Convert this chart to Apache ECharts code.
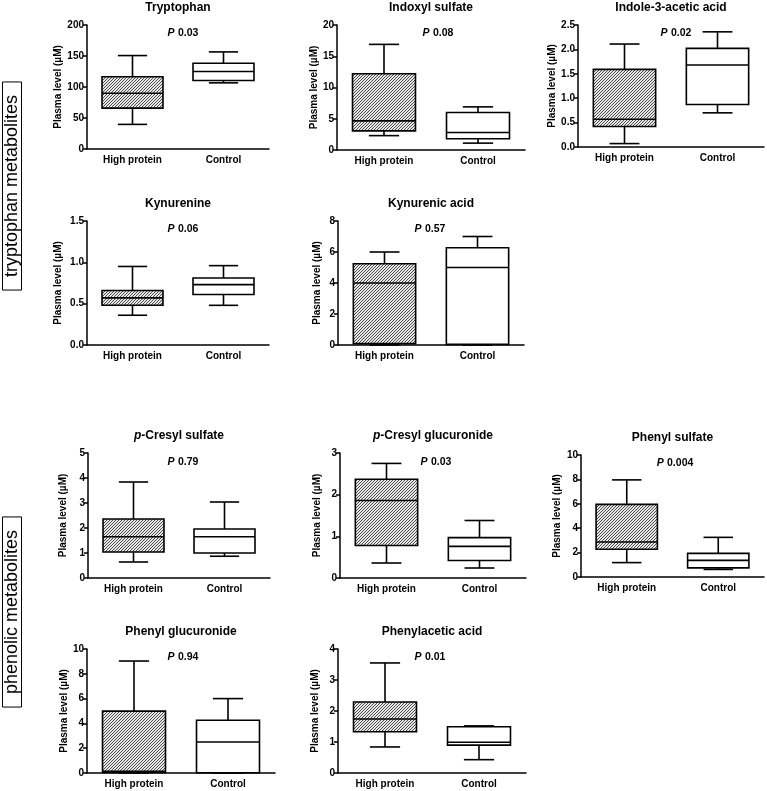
<!DOCTYPE html>
<html><head><meta charset="utf-8">
<script src="https://cdn.jsdelivr.net/npm/echarts@6/dist/echarts.min.js"></script>
<style>html,body{margin:0;padding:0;background:#fff}#c{width:767px;height:791px}</style>
</head><body><div id="c"></div>
<script>
// ---------- DATA ----------
const categories = ['High protein', 'Control'];
const panelTitles = ['Tryptophan', 'Indoxyl sulfate', 'Indole-3-acetic acid', 'Kynurenine', 'Kynurenic acid',
  '{i|p}-Cresyl sulfate', '{i|p}-Cresyl glucuronide', 'Phenyl sulfate', 'Phenyl glucuronide', 'Phenylacetic acid'];
const pValues = ['0.03', '0.08', '0.02', '0.06', '0.57', '0.79', '0.03', '0.004', '0.94', '0.01'];
const groupLabels = ['tryptophan metabolites', 'phenolic metabolites'];
// box values: [min, Q1, median, Q3, max]
const tryptophanHP = [39.7, 66, 90, 116.5, 150.7];
const tryptophanCtrl = [106.7, 110.5, 125, 138.3, 156.6];
const indoxylHP = [2.3, 3.06, 4.66, 12.2, 16.9];
const indoxylCtrl = [1.1, 1.8, 2.8, 6.0, 6.9];
const indoleAceticHP = [0.07, 0.42, 0.57, 1.59, 2.11];
const indoleAceticCtrl = [0.70, 0.87, 1.68, 2.02, 2.36];
const kynurenineHP = [0.36, 0.48, 0.57, 0.66, 0.95];
const kynurenineCtrl = [0.48, 0.61, 0.73, 0.81, 0.96];
const kynurenicHP = [0.0, 0.09, 4.0, 5.24, 6.0];
const kynurenicCtrl = [0.0, 0.04, 5.0, 6.27, 7.0];
const pCresylSulfHP = [0.64, 1.04, 1.65, 2.36, 3.84];
const pCresylSulfCtrl = [0.87, 1.0, 1.65, 1.96, 3.04];
const pCresylGlucHP = [0.36, 0.78, 1.86, 2.37, 2.75];
const pCresylGlucCtrl = [0.24, 0.42, 0.76, 0.97, 1.38];
const phenylSulfHP = [1.18, 2.27, 2.87, 5.95, 7.96];
const phenylSulfCtrl = [0.62, 0.75, 1.36, 1.94, 3.25];
const phenylGlucHP = [0.0, 0.05, 0.13, 4.99, 9.03];
const phenylGlucCtrl = [0.0, 0.02, 2.5, 4.25, 6.0];
const phenylaceticHP = [0.84, 1.33, 1.74, 2.29, 3.55];
const phenylaceticCtrl = [0.43, 0.9, 0.99, 1.49, 1.52];
const yMaxes = [200, 20, 2.5, 1.5, 8, 5, 3, 10, 10, 4];
const yIntervals = [50, 5, 0.5, 0.5, 2, 1, 1, 2, 2, 1];
const yDecimals = [0, 0, 1, 1, 0, 0, 0, 0, 0, 0];
const yAxisName = 'Plasma level (µM)';

const panelData = [
  [tryptophanHP, tryptophanCtrl], [indoxylHP, indoxylCtrl], [indoleAceticHP, indoleAceticCtrl],
  [kynurenineHP, kynurenineCtrl], [kynurenicHP, kynurenicCtrl],
  [pCresylSulfHP, pCresylSulfCtrl], [pCresylGlucHP, pCresylGlucCtrl], [phenylSulfHP, phenylSulfCtrl],
  [phenylGlucHP, phenylGlucCtrl], [phenylaceticHP, phenylaceticCtrl]
];

// ---------- LAYOUT ----------
// [left, top, width, height]
const gridBoxes = [
  [87, 25, 182, 124], [337, 25, 188, 125], [578, 25, 186, 122],
  [87, 221, 182, 124], [338, 221, 186, 124],
  [88, 453, 182, 125], [340, 453, 186, 125], [581, 455, 183, 122],
  [87, 649, 188, 124], [338, 649, 188, 124]
];
const nameGaps = [24, 17, 20, 24, 16, 20, 18, 19, 18, 18];
const pPos = [[183, 33], [438, 33], [676, 33], [183, 229], [430, 229], [183, 462], [436, 462], [675, 463], [183, 657], [430, 657]];
const FONT = '"Liberation Sans", Arial, sans-serif';

function makeHatch() {
  const s = 3;
  const cv = document.createElement('canvas');
  cv.width = s; cv.height = s;
  const ctx = cv.getContext('2d');
  ctx.fillStyle = '#e6e6e6'; ctx.fillRect(0, 0, s, s);
  ctx.strokeStyle = '#3c3c3c'; ctx.lineWidth = 0.9;
  ctx.beginPath();
  ctx.moveTo(0, s); ctx.lineTo(s, 0);
  ctx.moveTo(-1, 1); ctx.lineTo(1, -1);
  ctx.moveTo(s - 1, s + 1); ctx.lineTo(s + 1, s - 1);
  ctx.stroke();
  return cv;
}
const hatch = { image: makeHatch(), repeat: 'repeat' };

function renderBox(params, api) {
  const ci = api.value(0);
  const v = [api.value(1), api.value(2), api.value(3), api.value(4), api.value(5)];
  const band = api.size([1, 0])[0];
  const bw = band * 0.67;
  const cw = bw * 0.48;
  const cx = api.coord([ci, v[2]])[0];
  const y = v.map(val => api.coord([ci, val])[1]);
  const ls = { stroke: '#000', lineWidth: 1.6, fill: null };
  return {
    type: 'group', children: [
      { type: 'line', shape: { x1: cx, y1: y[3], x2: cx, y2: y[4] }, style: ls },
      { type: 'line', shape: { x1: cx, y1: y[1], x2: cx, y2: y[0] }, style: ls },
      { type: 'line', shape: { x1: cx - cw / 2, y1: y[4], x2: cx + cw / 2, y2: y[4] }, style: ls },
      { type: 'line', shape: { x1: cx - cw / 2, y1: y[0], x2: cx + cw / 2, y2: y[0] }, style: ls },
      { type: 'rect', shape: { x: cx - bw / 2, y: y[3], width: bw, height: y[1] - y[3] },
        style: { fill: ci === 0 ? hatch : '#fff', stroke: '#000', lineWidth: 1.6 } },
      { type: 'line', shape: { x1: cx - bw / 2, y1: y[2], x2: cx + bw / 2, y2: y[2] }, style: ls }
    ]
  };
}

const grids = [], xAxes = [], yAxes = [], series = [], graphics = [];
panelData.forEach((pd, i) => {
  const g = gridBoxes[i];
  grids.push({ left: g[0], top: g[1], width: g[2], height: g[3], containLabel: false });
  xAxes.push({
    type: 'category', gridIndex: i, data: categories, boundaryGap: true,
    axisLine: { lineStyle: { color: '#000', width: 1.5 } },
    axisTick: { alignWithLabel: true, length: 4, lineStyle: { color: '#000', width: 1.5 } },
    axisLabel: { color: '#000', fontWeight: 'bold', fontSize: 10, fontFamily: FONT, margin: 6 }
  });
  const dec = yDecimals[i];
  yAxes.push({
    type: 'value', gridIndex: i, min: 0, max: yMaxes[i], interval: yIntervals[i],
    name: yAxisName, nameLocation: 'middle', nameGap: nameGaps[i],
    nameTextStyle: { color: '#000', fontWeight: 'bold', fontSize: 10, fontFamily: FONT },
    axisLine: { show: true, lineStyle: { color: '#000', width: 1.5 } },
    axisTick: { show: true, length: 4, lineStyle: { color: '#000', width: 1.5 } },
    axisLabel: { color: '#000', fontWeight: 'bold', fontSize: 10, fontFamily: FONT, margin: 3,
      formatter: val => val.toFixed(dec) },
    splitLine: { show: false }
  });
  series.push({
    type: 'custom', xAxisIndex: i, yAxisIndex: i, renderItem: renderBox, clip: false,
    dimensions: ['cat', 'min', 'q1', 'median', 'q3', 'max'],
    encode: { x: 0, y: [1, 2, 3, 4, 5] },
    data: pd.map((vals, ci) => [ci].concat(vals))
  });
  graphics.push({
    type: 'text', x: g[0] + g[2] / 2, y: g[1] - 17, silent: true,
    style: { text: panelTitles[i], font: 'bold 12px ' + FONT, fill: '#000', align: 'center', verticalAlign: 'middle',
      rich: { i: { fontStyle: 'italic', fontWeight: 'bold', fontSize: 12, fontFamily: FONT, fill: '#000' } } }
  });
  graphics.push({
    type: 'text', x: pPos[i][0], y: pPos[i][1], silent: true,
    style: { text: '{i|P} {b|' + pValues[i] + '}', fill: '#000', align: 'center', verticalAlign: 'middle',
      rich: {
        i: { fontStyle: 'italic', fontWeight: 'bold', fontSize: 10.5, fontFamily: FONT, fill: '#000' },
        b: { fontWeight: 'bold', fontSize: 10.5, fontFamily: FONT, fill: '#000' }
      } }
  });
});

const sidePos = [[12, 186], [12, 612]];
groupLabels.forEach((t, k) => {
  graphics.push({
    type: 'text', x: sidePos[k][0], y: sidePos[k][1], rotation: Math.PI / 2, silent: true,
    style: { text: t, font: '18px ' + FONT, fill: '#000', align: 'center', verticalAlign: 'middle',
      borderColor: '#000', borderWidth: 1, padding: [1, 13, 0, 13] }
  });
});

const chart = echarts.init(document.getElementById('c'), null, { renderer: 'canvas' });
chart.setOption({
  backgroundColor: '#fff', animation: false,
  grid: grids, xAxis: xAxes, yAxis: yAxes, series: series, graphic: graphics
});
</script></body></html>
